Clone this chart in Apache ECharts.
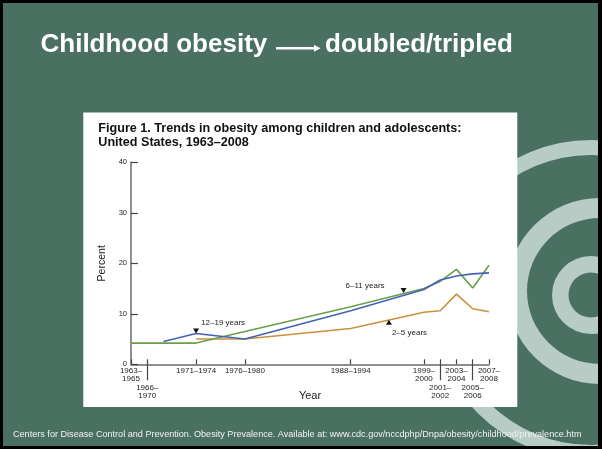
<!DOCTYPE html>
<html>
<head>
<meta charset="utf-8">
<script src="https://cdn.jsdelivr.net/npm/echarts@6/dist/echarts.min.js"></script>
<style>html,body{margin:0;padding:0;background:#000;}#c{width:602px;height:449px;}</style>
</head>
<body>
<div id="c"></div>
<script>
// ---- data ----
const periodLabels = ['1963–\n1965','1966–\n1970','1971–1974','1976–1980','1988–1994','1999–\n2000','2001–\n2002','2003–\n2004','2005–\n2006','2007–\n2008'];
const periodYears  = [1963, 1965, 1971, 1977, 1990, 1999, 2001, 2003, 2005, 2007];
const lowerRowLabels = ['1966–\n1970','2001–\n2002','2005–\n2006'];

const x6to11  = [1963, 1971, 1977, 1990, 1999, 2001, 2003, 2005, 2007];
const ages6to11  = [4.2, 4.2, 6.5, 11.4, 15.0, 16.4, 18.8, 15.1, 19.6];
const x12to19 = [1967, 1971, 1977, 1990, 1999, 2001, 2003, 2005, 2007];
const ages12to19 = [4.5, 6.1, 5.0, 10.6, 14.8, 16.7, 17.5, 17.9, 18.1];
const x2to5   = [1971, 1977, 1990, 1999, 2001, 2003, 2005, 2007];
const ages2to5   = [5.0, 5.0, 7.1, 10.3, 10.6, 13.9, 11.0, 10.4];

const seriesNames = ['12–19 years', '6–11 years', '2–5 years'];
const annotationAt = {
  '12–19 years': [1971, 6.1],
  '6–11 years': [1996.5, 14.1],
  '2–5 years': [1994.7, 8.8]
};
const yTicks = [0, 10, 20, 30, 40];

// ---- helpers ----
const FONT = "Arial, 'Liberation Sans', Helvetica, sans-serif";
const pairs = (xs, ys) => xs.map((x, i) => [x, ys[i]]);
const labelOf = v => periodLabels[periodYears.indexOf(v)] || '';
const upperYears = periodYears.filter((y, i) => lowerRowLabels.indexOf(periodLabels[i]) < 0);
const lowerYears = periodYears.filter((y, i) => lowerRowLabels.indexOf(periodLabels[i]) >= 0);

const chart = echarts.init(document.getElementById('c'), null, {renderer: 'canvas'});

const axisColor = '#6a6a6a';
const textColor = '#222';

function annotation(name, dir, labelPos, distance, offset) {
  return {
    symbol: 'triangle',
    symbolSize: [6, 5],
    symbolRotate: dir === 'down' ? 180 : 0,
    symbolOffset: [0, dir === 'down' ? -2.5 : 2.5],
    itemStyle: {color: '#111'},
    label: {
      show: true, formatter: name, position: labelPos, distance: distance, offset: offset,
      fontSize: 8, fontFamily: FONT, color: textColor
    },
    data: [{coord: annotationAt[name]}]
  };
}

const option = {
  animation: false,
  backgroundColor: '#000',
  graphic: [
    {type: 'rect', z: -10, shape: {x: 3, y: 3, width: 595, height: 443}, style: {fill: '#4a7061'}},
    {type: 'ring', z: -9, shape: {cx: 591, cy: 300, r: 160, r0: 145}, style: {fill: '#b8ccc6'}},
    {type: 'ring', z: -9, shape: {cx: 600, cy: 291, r: 93, r0: 73}, style: {fill: '#b8ccc6'}},
    {type: 'ring', z: -9, shape: {cx: 591, cy: 295, r: 39, r0: 22.5}, style: {fill: '#b8ccc6'}},
    {type: 'rect', z: -8, shape: {x: 598, y: 0, width: 4, height: 449}, style: {fill: '#000'}},
    {type: 'rect', z: -8, shape: {x: 0, y: 446, width: 602, height: 3}, style: {fill: '#000'}},
    {type: 'rect', z: -7, shape: {x: 83.3, y: 112.5, width: 434, height: 294.5}, style: {fill: '#fff'}},
    {type: 'line', z: 5, shape: {x1: 276, y1: 48.3, x2: 316, y2: 48.3}, style: {stroke: '#fff', lineWidth: 2.4}},
    {type: 'polygon', z: 5, shape: {points: [[314, 44.8], [320.5, 48.3], [314, 51.8]]}, style: {fill: '#fff'}}
  ],
  title: [
    {text: 'Childhood obesity', left: 40.5, top: 31.5, padding: 0,
     textStyle: {color: '#fff', fontSize: 26, fontWeight: 'bold', fontFamily: FONT, lineHeight: 26}},
    {text: 'doubled/tripled', left: 325, top: 31.5, padding: 0,
     textStyle: {color: '#fff', fontSize: 26, fontWeight: 'bold', fontFamily: FONT, lineHeight: 26}},
    {text: 'Figure 1. Trends in obesity among children and adolescents:\nUnited States, 1963–2008', left: 98.3, top: 122, padding: 0,
     textStyle: {color: '#111', fontSize: 12.6, fontWeight: 'bold', fontFamily: FONT, lineHeight: 14}},
    {text: 'Centers for Disease Control and Prevention. Obesity Prevalence. Available at: www.cdc.gov/nccdphp/Dnpa/obesity/childhood/prevalence.htm',
     left: 13, top: 429.5, padding: 0,
     textStyle: {color: '#f2f2f2', fontSize: 9.1, fontWeight: 'normal', fontFamily: FONT, lineHeight: 9}}
  ],
  grid: {left: 131, right: 113, top: 162.3, bottom: 84.7, containLabel: false},
  xAxis: [
    {
      type: 'value', min: periodYears[0], max: periodYears[periodYears.length - 1], position: 'bottom',
      name: 'Year', nameLocation: 'middle', nameGap: 26,
      nameTextStyle: {fontSize: 11, fontFamily: FONT, color: textColor},
      axisLine: {show: true, lineStyle: {color: axisColor, width: 1.5}},
      axisTick: {show: true, inside: true, length: 5, customValues: periodYears, lineStyle: {color: '#444', width: 1.2}},
      axisLabel: {customValues: upperYears, formatter: labelOf, margin: 3, fontSize: 8, lineHeight: 7.8, fontFamily: FONT, color: textColor, align: 'center'},
      splitLine: {show: false}
    },
    {
      type: 'value', min: periodYears[0], max: periodYears[periodYears.length - 1], position: 'bottom',
      axisLine: {show: false},
      axisTick: {show: true, inside: false, length: 16, customValues: lowerYears, lineStyle: {color: '#444', width: 1.2}},
      axisLabel: {customValues: lowerYears, formatter: labelOf, margin: 20, fontSize: 8, lineHeight: 7.8, fontFamily: FONT, color: textColor, align: 'center'},
      splitLine: {show: false}
    }
  ],
  yAxis: {
    type: 'value', min: yTicks[0], max: yTicks[yTicks.length - 1], interval: yTicks[1] - yTicks[0],
    name: 'Percent', nameLocation: 'middle', nameRotate: 90, nameGap: 22,
    nameTextStyle: {fontSize: 10.5, fontFamily: FONT, color: textColor},
    axisLine: {show: true, lineStyle: {color: axisColor, width: 1.5}},
    axisTick: {show: true, inside: true, length: 7, lineStyle: {color: '#444', width: 1.2}},
    axisLabel: {margin: 4, fontSize: 7.5, fontFamily: FONT, color: textColor},
    splitLine: {show: false}
  },
  series: [
    {name: seriesNames[2], type: 'line', data: pairs(x2to5, ages2to5), showSymbol: false, symbol: 'none',
     lineStyle: {color: '#c9913c', width: 1.6}, itemStyle: {color: '#c9913c'},
     markPoint: annotation(seriesNames[2], 'up', 'right', 0, [0, 10])},
    {name: seriesNames[1], type: 'line', data: pairs(x6to11, ages6to11), showSymbol: false, symbol: 'none',
     lineStyle: {color: '#6a9f4a', width: 1.6}, itemStyle: {color: '#6a9f4a'},
     markPoint: annotation(seriesNames[1], 'down', 'left', 16, [0, -5])},
    {name: seriesNames[0], type: 'line', data: pairs(x12to19, ages12to19), showSymbol: false, symbol: 'none',
     lineStyle: {color: '#4262b8', width: 1.6}, itemStyle: {color: '#4262b8'},
     markPoint: annotation(seriesNames[0], 'down', 'right', 2, [0, -8])}
  ]
};
chart.setOption(option);
</script>
</body>
</html>
